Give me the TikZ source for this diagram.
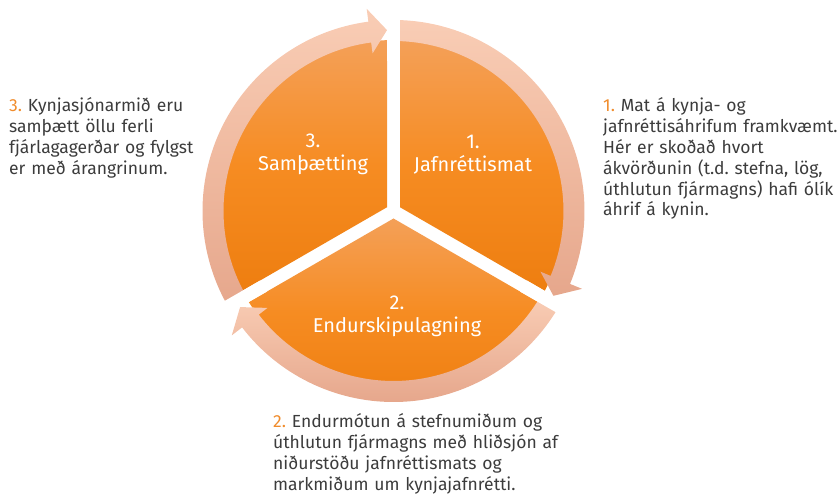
\documentclass[tikz,border=0pt]{standalone}
\usepackage{fontspec}
\setmainfont{Fira Sans}
\usetikzlibrary{calc}
\definecolor{bodytxt}{HTML}{3C3C3C}
\definecolor{numorange}{HTML}{F08C2C}
\definecolor{wedgetop}{HTML}{F4A058}
\definecolor{wedgemid}{HTML}{F68C22}
\definecolor{wedgebot}{HTML}{EE7E10}
\definecolor{ringtop}{HTML}{F9CDB5}
\definecolor{ringbot}{HTML}{E6A78C}
\begin{document}
\frenchspacing
\begin{tikzpicture}[x=1pt,y=1pt,
  wedge/.style={top color=wedgetop, bottom color=wedgebot, middle color=wedgemid, draw=none},
  ringseg/.style={top color=ringtop, bottom color=ringbot, draw=none},
  gapline/.style={white, line width=13pt},
  wedgelabel/.style={text=white, font=\fontsize{20}{23}\selectfont, align=center},
  desc/.style={text=bodytxt, font=\fontsize{17.5}{20.8}\selectfont\frenchspacing, align=left, text width=300pt, anchor=base west, inner sep=0pt}
]
\useasboundingbox (0,0) rectangle (838,495);
\coordinate (C) at (393.5,284);
% pie wedges
\foreach \b in {30,-90,150} {
  \shade[wedge] ($(C)+(\b:7.5)$) -- ($(C)+(\b+57.82:171)$) arc[start angle=\b+57.82, end angle=\b-57.82, radius=171] -- cycle;
}
% ring arrows
\foreach \s/\bk/\t in {90/-22.44/-27.94, -30/-142.44/-147.94, 210/97.56/92.06} {
  \shade[ringseg] ($(C)+(\s:191)$) arc[start angle=\s, end angle=\bk, radius=191] -- ($(C)+(\bk:204)$) -- ($(C)+(\t:181)$) -- ($(C)+(\bk:159)$) -- ($(C)+(\bk:170)$) arc[start angle=\bk, end angle=\s, radius=170] -- cycle;
}
% gaps in the ring
\foreach \a in {90,-30,210} {
  \draw[gapline] ($(C)+(\a:150)$) -- ($(C)+(\a:215)$);
}
% wedge labels
\node[wedgelabel] (l1) at (473,340.5) {1.\\Jafnréttismat};
\node[wedgelabel] (l3) at (313,340.5) {3.\\Samþætting};
\node[wedgelabel] (l2) at (397,179) {2.\\Endurskipulagning};
% descriptions
\node[desc] (t3) at (9,383) {\textcolor{numorange}{3.} Kynjasjónarmið eru\\samþætt öllu ferli\\fjárlagagerðar og fylgst\\er með árangrinum.};
\node[desc] (t1) at (603,383) {\textcolor{numorange}{1.} Mat á kynja- og\\jafnréttisáhrifum framkvæmt.\\Hér er skoðað hvort\\ákvörðunin (t.d. stefna, lög,\\úthlutun fjármagns) hafi ólík\\áhrif á kynin.};
\node[desc] (t2) at (273,67) {\textcolor{numorange}{2.} Endurmótun á stefnumiðum og\\úthlutun fjármagns með hliðsjón af\\niðurstöðu jafnréttismats og\\markmiðum um kynjajafnrétti.};
\end{tikzpicture}
\end{document}
